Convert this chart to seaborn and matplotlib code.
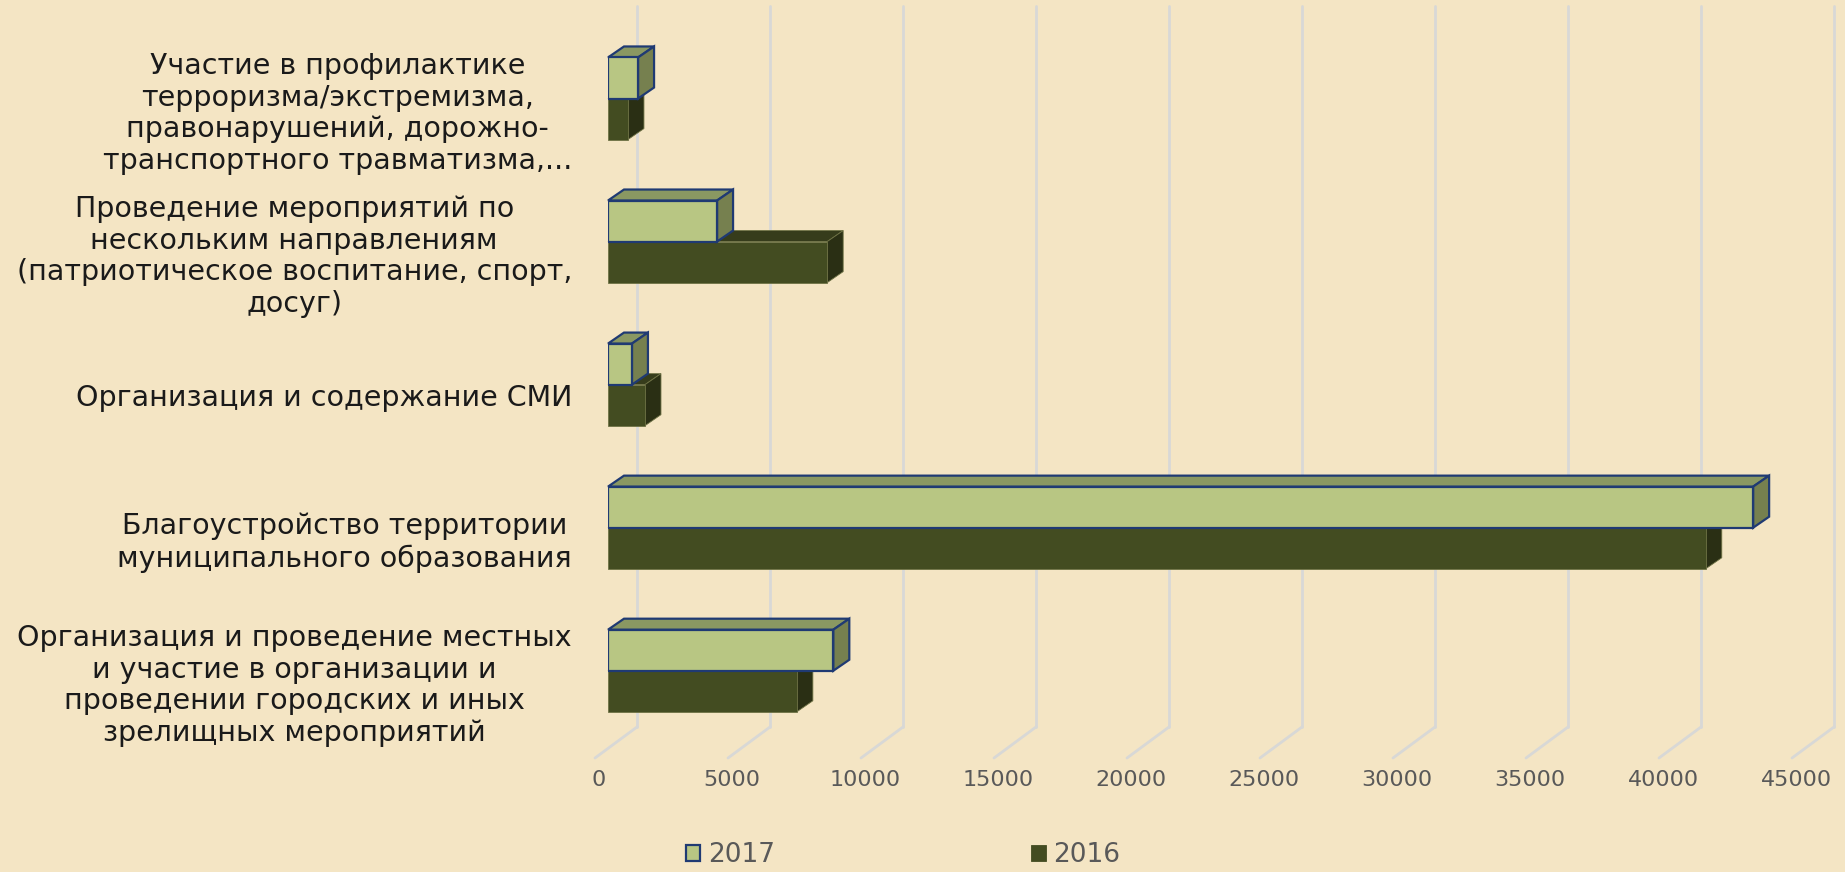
import numpy as np
import pandas as pd
import matplotlib
matplotlib.use("Agg")
import matplotlib.pyplot as plt
import matplotlib.transforms as mtransforms
from matplotlib.patches import Polygon, Patch
import seaborn as sns

# --- data ---
categories = [
    "Участие в профилактике\nтерроризма/экстремизма,\nправонарушений, дорожно-\nтранспортного травматизма,...",
    "Проведение мероприятий по\nнескольким направлениям\n(патриотическое воспитание, спорт,\nдосуг)",
    "Организация и содержание СМИ",
    "Благоустройство территории\nмуниципального образования",
    "Организация и проведение местных\nи участие в организации и\nпроведении городских и иных\nзрелищных мероприятий",
]
values_2017 = [1130, 4100, 900, 43050, 8470]
values_2016 = [750, 8240, 1390, 41270, 7100]
years = ["2017", "2016"]
x_ticks = [0, 5000, 10000, 15000, 20000, 25000, 30000, 35000, 40000, 45000]

BG = "#F4E5C4"
face = {"2017": "#B8C683", "2016": "#434C21"}
top = {"2017": "#8A9862", "2016": "#363C1B"}
side = {"2017": "#76804F", "2016": "#2A2F14"}
edge = {"2017": "#1F3A73", "2016": "#6E7245"}

df = pd.DataFrame({
    "category": categories * 2,
    "value": values_2017 + values_2016,
    "year": ["2017"] * len(categories) + ["2016"] * len(categories),
})

sns.set_theme(style="white")
plt.rcParams["font.family"] = ["DejaVu Sans"]

W, H, DPI = 1845, 872, 100
fig = plt.figure(figsize=(W / DPI, H / DPI), dpi=DPI, facecolor=BG)
# axes = front plane of the bars
ax_left, ax_right, ax_top, ax_bottom = 608, 1805, 27, 748
ax = fig.add_axes([ax_left / W, 1 - ax_bottom / H, (ax_right - ax_left) / W, (ax_bottom - ax_top) / H])
ax.set_facecolor("none")

sns.barplot(data=df, y="category", x="value", hue="year", hue_order=years,
            palette=face, saturation=1, orient="h", width=0.574, ax=ax, legend=False)
ax.set_xlim(0, 45000)
ax.set_ylim(4.54, -0.5)
for s in ax.spines.values():
    s.set_visible(False)
ax.set_xlabel("")
ax.set_ylabel("")

ident = mtransforms.IdentityTransform()


def px(x, y, dx=0, dy=0):
    p = ax.transData.transform((x, y))
    return (p[0] + dx, p[1] + dy)


# depth offsets in pixels (display: y up)
BAR_D = (16, 11)
WALL = (29, 21)
FLOOR = (-13, -10)

# gridlines on back wall + floor
grid_c = "#D8D8D6"
for v in x_ticks:
    xb, yb = px(v, 4.54, *WALL)
    _, yt = px(v, -0.5, *WALL)
    xf, yf = px(v, 4.54, *FLOOR)
    ax.plot([xb, xb], [yb, yt], color=grid_c, lw=2, transform=ident, clip_on=False, zorder=0.5)
    ax.plot([xb, xf], [yb, yf], color=grid_c, lw=2, transform=ident, clip_on=False, zorder=0.5)

# 3D faces for each bar
for yr, cont in zip(years, ax.containers):
    zf = 4 if yr == "2017" else 3
    lw = 1.6 if yr == "2017" else 0.6
    for bar in cont:
        bar.set_edgecolor(edge[yr])
        bar.set_linewidth(lw)
        bar.set_zorder(zf)
        x0, y0 = bar.get_x(), bar.get_y()
        x1, y1 = x0 + bar.get_width(), y0 + bar.get_height()
        # y0 is top (inverted axis)
        tl, tr, br = px(x0, y0), px(x1, y0), px(x1, y1)
        d = BAR_D
        top_poly = [tl, tr, (tr[0] + d[0], tr[1] + d[1]), (tl[0] + d[0], tl[1] + d[1])]
        side_poly = [tr, br, (br[0] + d[0], br[1] + d[1]), (tr[0] + d[0], tr[1] + d[1])]
        for poly, col in ((top_poly, top[yr]), (side_poly, side[yr])):
            ax.add_patch(Polygon(poly, closed=True, facecolor=col, edgecolor=edge[yr],
                                 lw=lw, transform=ident, clip_on=False, zorder=zf - 0.5))

# tick labels
ax.set_xticks(x_ticks)
ax.set_xticklabels([str(v) for v in x_ticks], fontsize=16, color="#595959")
ax.tick_params(axis="x", length=0, pad=16)
for lab in ax.get_xticklabels():
    lab.set_transform(lab.get_transform() + mtransforms.ScaledTranslation(-9 / DPI, 0, fig.dpi_scale_trans))

ax.set_yticks(range(len(categories)))
ax.set_yticklabels(categories, fontsize=20.5, color="#1A1A1A", multialignment="center", linespacing=1.17)
ax.tick_params(axis="y", length=0, pad=26)
for lab in ax.get_yticklabels():
    lab.set_transform(lab.get_transform() + mtransforms.ScaledTranslation(0, -10 / DPI, fig.dpi_scale_trans))

# legend
handles = [Patch(facecolor=face["2017"], edgecolor=edge["2017"], lw=1.6, label="2017"),
           Patch(facecolor=face["2016"], edgecolor=face["2016"], lw=0.6, label="2016")]
leg = fig.legend(handles=handles, loc="center", bbox_to_anchor=(903 / W, 1 - 855 / H), ncol=2,
                 frameon=False, fontsize=19, handlelength=0.55, handleheight=0.55,
                 handletextpad=0.3, columnspacing=9.7)
for t in leg.get_texts():
    t.set_color("#595959")

fig.savefig("out.png", dpi=DPI, facecolor=BG)
